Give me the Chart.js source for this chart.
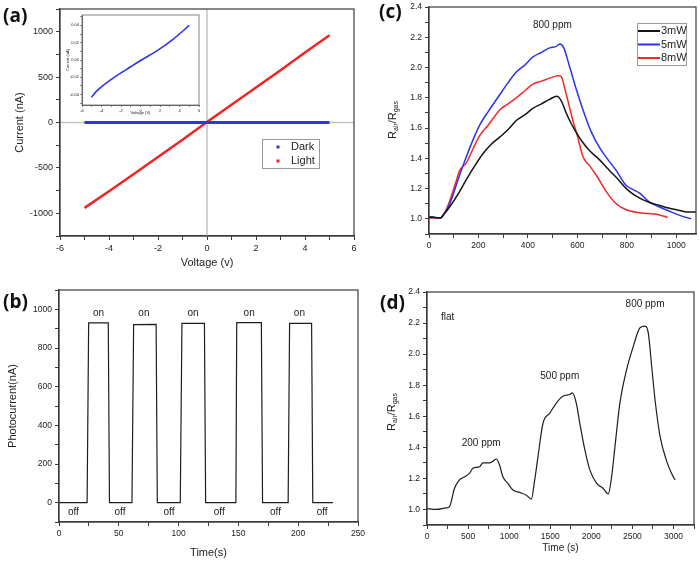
<!DOCTYPE html>
<html>
<head>
<meta charset="utf-8">
<script src="https://cdn.jsdelivr.net/npm/chart.js@4.4.1/dist/chart.umd.min.js"></script>
<style>
  body { margin: 0; background: #fff; width: 700px; height: 568px; position: relative; overflow: hidden; }
  canvas { position: absolute; }
  .tag { position: absolute; font: bold 19px "Open Sans", sans-serif; color: #111; line-height: 20px; }
</style>
</head>
<body>
<canvas id="chartA" width="360" height="280" style="left:0;top:0;width:360px;height:280px"></canvas>
<canvas id="chartInset" width="140" height="106" style="left:62px;top:12px;width:140px;height:106px"></canvas>
<canvas id="chartB" width="365" height="288" style="left:0;top:280px;width:365px;height:288px"></canvas>
<canvas id="chartC" width="340" height="280" style="left:360px;top:0;width:340px;height:280px"></canvas>
<canvas id="chartD" width="340" height="288" style="left:360px;top:280px;width:340px;height:288px"></canvas>
<div class="tag" style="left:3px;top:5px">(a)</div>
<div class="tag" style="left:3px;top:291px">(b)</div>
<div class="tag" style="left:379px;top:1px">(c)</div>
<div class="tag" style="left:380px;top:292px">(d)</div>
<script>
// (a) I-V curves
const ivVolt = [-5, -4, -3, -2, -1, 0, 1, 2, 3, 4, 5];
const ivDark = [0, 0, 0, 0, 0, 0, 0, 0, 0, 0, 0];
const ivLight = [-940, -758, -570, -380, -190, 5, 195, 385, 575, 770, 960];
// (a) inset, dark current
const insetVolt = [-5.04, -4.5, -3.8, -2.7, -0.96, 0.1, 1.87, 3.3, 5.0];
const insetDark = [-0.043, -0.036, -0.029, -0.020, -0.0075, 0.0, 0.012, 0.0235, 0.04];

// (b) on/off photocurrent
const pcTime = [0, 23.5, 24.8, 41.2, 42.2, 61, 62.4, 81.2, 82.2, 101.4, 102.8, 121.6, 122.6,
  147.9, 148.6, 169.2, 170.2, 191.6, 192.8, 211.2, 212.2, 229];
const pcCurrent = [0, 0, 930, 930, 0, 0, 921, 922, 0, 0, 928, 927, 0,
  0, 931, 931, 0, 0, 927, 928, 0, 0];
const onTimes = [33, 71, 112, 159, 201];
const offTimes = [12, 51, 92, 134, 181, 220];

// (c) response at 800 ppm for three light powers
const t3mW = [0, 20, 45, 60, 84, 120, 151, 185, 218, 250, 286, 320, 353, 390, 420, 455, 488, 517,
  535, 555, 575, 596, 620, 650, 690, 730, 760, 798, 838, 889, 930, 973, 1000, 1027, 1050, 1080];
const r3mW = [1.01, 1.01, 1.005, 1.03, 1.08, 1.17, 1.26, 1.35, 1.43, 1.49, 1.54, 1.59, 1.65, 1.69, 1.73, 1.76, 1.79, 1.81,
  1.78, 1.70, 1.63, 1.57, 1.51, 1.45, 1.39, 1.32, 1.27, 1.20, 1.15, 1.11, 1.09, 1.07, 1.06, 1.05, 1.045, 1.045];
const t5mW = [0, 20, 45, 60, 84, 120, 151, 180, 205, 240, 286, 320, 353, 390, 420, 455, 488, 515,
  530, 545, 568, 595, 623, 655, 690, 720, 757, 798, 830, 852, 892, 930, 973, 1020, 1061];
const r5mW = [1.015, 1.01, 1.005, 1.03, 1.10, 1.27, 1.41, 1.53, 1.62, 1.71, 1.82, 1.90, 1.97, 2.02, 2.07, 2.10, 2.13, 2.14,
  2.155, 2.13, 2.01, 1.86, 1.72, 1.58, 1.47, 1.40, 1.32, 1.22, 1.19, 1.17, 1.11, 1.08, 1.05, 1.02, 1.0];
const t8mW = [0, 20, 45, 60, 84, 110, 124, 151, 180, 205, 240, 286, 320, 353, 390, 420, 455, 488, 522,
  535, 548, 565, 582, 600, 623, 650, 680, 717, 757, 798, 852, 919, 966];
const r8mW = [1.005, 1.005, 1.005, 1.03, 1.12, 1.25, 1.32, 1.37, 1.47, 1.55, 1.62, 1.72, 1.76, 1.80, 1.85, 1.89, 1.91, 1.93, 1.945,
  1.94, 1.87, 1.76, 1.65, 1.55, 1.41, 1.35, 1.28, 1.18, 1.10, 1.06, 1.04, 1.03, 1.01];

// (d) flat sensor, three concentrations
const flatTime = [0, 110, 232, 273, 334, 395, 456, 517, 558, 639, 680, 761, 802, 843, 883, 924, 985, 1046,
  1127, 1209, 1270, 1311, 1351, 1412, 1494, 1575, 1657, 1738, 1770, 1819, 1860, 1921, 1982, 2063,
  2145, 2206, 2247, 2287, 2348, 2430, 2511, 2593, 2654, 2694, 2735, 2776, 2837, 2918, 2979, 3020];
const flatRatio = [1.006, 1.0, 1.01, 1.017, 1.135, 1.19, 1.21, 1.232, 1.265, 1.275, 1.30, 1.30, 1.31, 1.325, 1.286, 1.21, 1.168, 1.125,
  1.11, 1.092, 1.067, 1.19, 1.34, 1.555, 1.62, 1.685, 1.73, 1.74, 1.75, 1.68, 1.555, 1.385, 1.255, 1.17,
  1.135, 1.10, 1.21, 1.40, 1.685, 1.90, 2.05, 2.17, 2.18, 2.135, 1.92, 1.705, 1.47, 1.31, 1.23, 1.19];

const FONT = '"Liberation Sans", Arial, sans-serif';
const INK = '#222';
const FRAME = '#3a3a3a';

function pts(xs, ys) {
  return xs.map((x, i) => ({ x: x, y: ys[i] }));
}

function isMajor(v, major) {
  const q = v / major;
  return Math.abs(q - Math.round(q)) < 1e-6;
}

function linAxis(o) {
  return {
    type: 'linear',
    min: o.min,
    max: o.max,
    border: { display: true, color: FRAME, width: o.lw || 1.2 },
    grid: { drawOnChartArea: false, drawTicks: true, tickLength: o.tick || 4, tickColor: FRAME, tickWidth: o.tw || 1 },
    ticks: {
      stepSize: o.minor,
      autoSkip: false,
      includeBounds: false,
      maxRotation: 0,
      padding: o.pad === undefined ? 3 : o.pad,
      color: INK,
      font: { family: FONT, size: o.size },
      callback: (v) => (isMajor(v, o.major) ? (Math.abs(v) < 1e-9 ? 0 : v).toFixed(o.digits) : ''),
    },
    title: o.title
      ? { display: true, text: o.title, color: INK, font: { family: FONT, size: o.titleSize }, padding: o.titlePad }
      : { display: false },
    afterFit(scale) {
      if (scale.isHorizontal()) scale.height = o.fixed;
      else scale.width = o.fixed;
      scale.paddingLeft = 0;
      scale.paddingRight = 0;
      scale.paddingTop = 0;
      scale.paddingBottom = 0;
    },
  };
}

// box around the plot area
const framePlugin = {
  id: 'frame',
  afterDatasetsDraw(chart, args, opts) {
    const a = chart.chartArea;
    const ctx = chart.ctx;
    ctx.save();
    ctx.strokeStyle = opts.color || FRAME;
    ctx.lineWidth = opts.width || 1.2;
    ctx.strokeRect(a.left, a.top, a.right - a.left, a.bottom - a.top);
    ctx.restore();
  },
};

// grey lines through x=0 and y=0
const zeroPlugin = {
  id: 'zeroLines',
  beforeDatasetsDraw(chart, args, opts) {
    if (!opts.on) return;
    const { ctx, chartArea: a, scales: { x, y } } = chart;
    ctx.save();
    ctx.strokeStyle = '#c4c4c4';
    ctx.lineWidth = 1.5;
    ctx.beginPath();
    const px = x.getPixelForValue(0);
    const py = y.getPixelForValue(0);
    ctx.moveTo(px, a.top);
    ctx.lineTo(px, a.bottom);
    ctx.moveTo(a.left, py);
    ctx.lineTo(a.right, py);
    ctx.stroke();
    ctx.restore();
  },
};

// text notes placed in data coordinates
const notesPlugin = {
  id: 'notes',
  afterDatasetsDraw(chart, args, opts) {
    if (!opts.items) return;
    const { ctx, scales: { x, y } } = chart;
    ctx.save();
    ctx.fillStyle = INK;
    ctx.font = opts.size + 'px ' + FONT;
    ctx.textBaseline = 'middle';
    opts.items.forEach((n) => {
      ctx.textAlign = n.align || 'center';
      ctx.fillText(n.text, x.getPixelForValue(n.x), y.getPixelForValue(n.y));
    });
    ctx.restore();
  },
};

// framed legend box inside the plot
const boxLegendPlugin = {
  id: 'boxLegend',
  afterDraw(chart, args, o) {
    if (!o.box) return;
    const ctx = chart.ctx;
    const [l, t, w, h] = o.box;
    ctx.save();
    ctx.fillStyle = '#fff';
    ctx.fillRect(l, t, w, h);
    ctx.strokeStyle = '#9a9a9a';
    ctx.lineWidth = 1;
    ctx.strokeRect(l + 0.5, t + 0.5, w, h);
    chart.data.datasets.forEach((ds, i) => {
      const y = o.rows[i];
      if (o.mark === 'line') {
        ctx.strokeStyle = ds.borderColor;
        ctx.lineWidth = 2;
        ctx.beginPath();
        ctx.moveTo(o.markX[0], y);
        ctx.lineTo(o.markX[1], y);
        ctx.stroke();
      } else {
        ctx.fillStyle = ds.borderColor;
        ctx.fillRect(o.markX[0] - 1.5, y - 1.5, 3, 3);
      }
      ctx.fillStyle = INK;
      ctx.font = o.size + 'px ' + FONT;
      ctx.textAlign = 'left';
      ctx.textBaseline = 'middle';
      ctx.fillText(ds.label, o.textX, y);
    });
    ctx.restore();
  },
};

// rotated R_air/R_gas title with subscripts
const ratioTitlePlugin = {
  id: 'ratioTitle',
  afterDraw(chart, args, o) {
    if (o.x === undefined) return;
    const ctx = chart.ctx;
    const parts = [
      ['R', 11, 0], ['air', 7, 3], ['/R', 11, 0], ['gas', 7, 3],
    ];
    ctx.save();
    ctx.translate(o.x, o.y);
    ctx.rotate(-Math.PI / 2);
    ctx.fillStyle = INK;
    ctx.textBaseline = 'middle';
    ctx.textAlign = 'left';
    let total = 0;
    parts.forEach((p) => {
      ctx.font = p[1] + 'px ' + FONT;
      total += ctx.measureText(p[0]).width;
    });
    let cx = -total / 2;
    parts.forEach((p) => {
      ctx.font = p[1] + 'px ' + FONT;
      ctx.fillText(p[0], cx, p[2]);
      cx += ctx.measureText(p[0]).width;
    });
    ctx.restore();
  },
};

const allPlugins = [framePlugin, zeroPlugin, notesPlugin, boxLegendPlugin, ratioTitlePlugin];

function baseOptions(padding) {
  return {
    responsive: false,
    animation: false,
    devicePixelRatio: 1,
    layout: { padding: padding },
    elements: { point: { radius: 0 }, line: { tension: 0 } },
  };
}

// ---- (a)
const optA = baseOptions({ left: 0, top: 9, right: 6, bottom: 0 });
optA.scales = {
  x: linAxis({ min: -6, max: 6, minor: 1, major: 2, digits: 0, size: 9, fixed: 44,
    title: 'Voltage (v)', titleSize: 11, titlePad: { top: 0, bottom: 10.4 } }),
  y: linAxis({ min: -1250, max: 1250, minor: 250, major: 500, digits: 0, size: 9, fixed: 60,
    title: 'Current (nA)', titleSize: 11, titlePad: { top: 13.4, bottom: 0 } }),
};
optA.plugins = {
  legend: { display: false },
  tooltip: { enabled: false },
  zeroLines: { on: true },
  boxLegend: { box: [262, 139, 57, 29], rows: [147, 161], mark: 'dot', markX: [278], textX: 291, size: 11 },
};
new Chart(document.getElementById('chartA'), {
  type: 'line',
  data: {
    datasets: [
      { label: 'Dark', data: pts(ivVolt, ivDark), borderColor: '#2f35e6', borderWidth: 2.8 },
      { label: 'Light', data: pts(ivVolt, ivLight), borderColor: '#f02424', borderWidth: 2.5 },
    ],
  },
  options: optA,
  plugins: allPlugins,
});

// ---- (a) inset
const optIn = baseOptions({ left: 0, top: 3, right: 3, bottom: 0 });
optIn.scales = {
  x: linAxis({ min: -6, max: 6, minor: 1, major: 2, digits: 0, size: 4, fixed: 13, tick: 2, pad: 1, lw: 0.8, tw: 0.6,
    title: 'Voltage (V)', titleSize: 4, titlePad: { top: 0, bottom: 2.6 } }),
  y: linAxis({ min: -0.052, max: 0.052, minor: 0.01, major: 0.02, digits: 2, size: 4, fixed: 20, tick: 2, pad: 1, lw: 0.8, tw: 0.6,
    title: 'Current (nA)', titleSize: 4, titlePad: { top: 3.6, bottom: 0 } }),
};
optIn.plugins = {
  legend: { display: false },
  tooltip: { enabled: false },
  frame: { color: '#666', width: 0.8 },
};
new Chart(document.getElementById('chartInset'), {
  type: 'line',
  data: {
    datasets: [{ label: 'Dark', data: pts(insetVolt, insetDark), borderColor: '#2f35e6', borderWidth: 1.6,
      cubicInterpolationMode: 'monotone' }],
  },
  options: optIn,
  plugins: allPlugins,
});

// ---- (b)
const optB = baseOptions({ left: 0, top: 10, right: 7, bottom: 0 });
optB.scales = {
  x: linAxis({ min: 0, max: 250, minor: 25, major: 50, digits: 0, size: 8.5, fixed: 46,
    title: 'Time(s)', titleSize: 11, titlePad: { top: 0, bottom: 8.4 } }),
  y: linAxis({ min: -100, max: 1100, minor: 100, major: 200, digits: 0, size: 8.5, fixed: 59,
    title: 'Photocurrent(nA)', titleSize: 11, titlePad: { top: 6.4, bottom: 0 } }),
};
optB.plugins = {
  legend: { display: false },
  tooltip: { enabled: false },
  notes: {
    size: 10,
    items: onTimes.map((t) => ({ text: 'on', x: t, y: 980 }))
      .concat(offTimes.map((t) => ({ text: 'off', x: t, y: -48 }))),
  },
};
new Chart(document.getElementById('chartB'), {
  type: 'line',
  data: { datasets: [{ label: 'Photocurrent', data: pts(pcTime, pcCurrent), borderColor: '#1e1e1e', borderWidth: 1.2 }] },
  options: optB,
  plugins: allPlugins,
});

// ---- (c)
const optC = baseOptions({ left: 0, top: 7, right: 4, bottom: 0 });
optC.scales = {
  x: linAxis({ min: 0, max: 1080, minor: 100, major: 200, digits: 0, size: 8.5, fixed: 46 }),
  y: linAxis({ min: 0.9, max: 2.4, minor: 0.1, major: 0.2, digits: 1, size: 8.5, fixed: 69 }),
};
optC.plugins = {
  legend: { display: false },
  tooltip: { enabled: false },
  notes: { size: 10, items: [{ text: '800 ppm', x: 499, y: 2.28 }] },
  boxLegend: { box: [277, 23, 49, 42], rows: [31, 44.5, 58], mark: 'line', markX: [278, 300], textX: 301, size: 11 },
  ratioTitle: { x: 33, y: 120 },
};
new Chart(document.getElementById('chartC'), {
  type: 'line',
  data: {
    datasets: [
      { label: '3mW', data: pts(t3mW, r3mW), borderColor: '#141414', borderWidth: 1.5, cubicInterpolationMode: 'monotone' },
      { label: '5mW', data: pts(t5mW, r5mW), borderColor: '#2d32ea', borderWidth: 1.5, cubicInterpolationMode: 'monotone' },
      { label: '8mW', data: pts(t8mW, r8mW), borderColor: '#f02a2a', borderWidth: 1.5, cubicInterpolationMode: 'monotone' },
    ],
  },
  options: optC,
  plugins: allPlugins,
});

// ---- (d)
const optD = baseOptions({ left: 0, top: 12, right: 6, bottom: 0 });
optD.scales = {
  x: linAxis({ min: 0, max: 3250, minor: 250, major: 500, digits: 0, size: 8.5, fixed: 43,
    title: 'Time (s)', titleSize: 10, titlePad: { top: 0, bottom: 14 } }),
  y: linAxis({ min: 0.9, max: 2.4, minor: 0.1, major: 0.2, digits: 1, size: 8.5, fixed: 67 }),
};
optD.plugins = {
  legend: { display: false },
  tooltip: { enabled: false },
  notes: {
    size: 10,
    items: [
      { text: 'flat', x: 171, y: 2.24, align: 'left' },
      { text: '200 ppm', x: 659, y: 1.426 },
      { text: '500 ppm', x: 1616, y: 1.86 },
      { text: '800 ppm', x: 2654, y: 2.32 },
    ],
  },
  ratioTitle: { x: 32, y: 132 },
};
new Chart(document.getElementById('chartD'), {
  type: 'line',
  data: { datasets: [{ label: 'flat', data: pts(flatTime, flatRatio), borderColor: '#1e1e1e', borderWidth: 1.2,
    cubicInterpolationMode: 'monotone' }] },
  options: optD,
  plugins: allPlugins,
});
</script>
</body>
</html>
